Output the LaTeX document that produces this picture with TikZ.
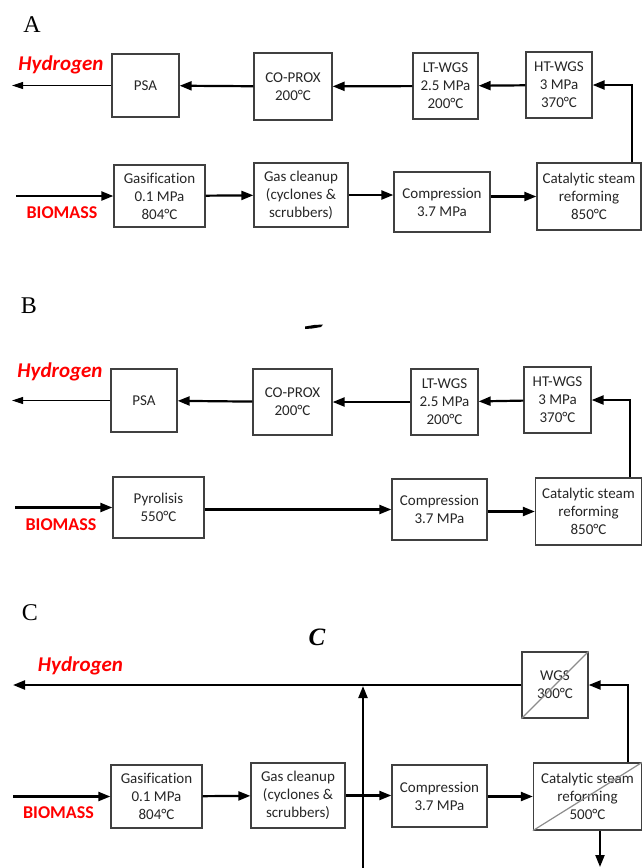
\documentclass[tikz,border=0pt]{standalone}
\usepackage{fontspec}
\setmainfont{Carlito}[Ligatures=NoCommon]
\newfontfamily\panelfont{Liberation Serif}
\usetikzlibrary{arrows.meta}

\begin{document}
\begin{tikzpicture}[
  x=1pt, y=-1pt,
  unit/.style={rectangle, draw=black!75, line width=1.3pt, align=center, inner sep=0pt, text=black!85, font=\fontsize{15}{18}\selectfont},
  panel/.style={inner sep=0pt, font=\panelfont\fontsize{24}{24}\selectfont},
  product/.style={inner sep=0pt, text=red, font=\bfseries\itshape\fontsize{21}{21}\selectfont},
  feed/.style={inner sep=0pt, text=red, font=\bfseries\fontsize{18}{18}\selectfont},
  flow/.style={->, line width=2.2pt},
  thinflow/.style={-{Triangle[length=11pt, width=7pt]}, line width=1.1pt},
  crossed/.style={draw=black!45, line width=1.2pt},
  >={Triangle[length=12pt, width=9pt]}
]
\useasboundingbox (0,0) rectangle (642,868);

\node[panel] (labA) at (32,25) {A};
\node[product] (h2labA) at (61,65) {Hydrogen};
\node[feed] (bioA) at (62,213) {BIOMASS};
\node[unit, minimum width=67, minimum height=63] (psaA) at (145.5,85.5) {PSA};
\node[unit, minimum width=78, minimum height=67] (coproxA) at (293,86.5) {CO-PROX\\200°C};
\node[unit, minimum width=65, minimum height=66] (ltA) at (445.5,86) {LT-WGS\\2.5 MPa\\200°C};
\node[unit, minimum width=66, minimum height=66] (htA) at (559,85) {HT-WGS\\3 MPa\\370°C};
\node[unit, minimum width=91, minimum height=62] (gasA) at (159.5,196) {Gasification\\0.1 MPa\\804°C};
\node[unit, minimum width=94, minimum height=64] (cleanA) at (301,195) {Gas cleanup\\(cyclones \&\\scrubbers)};
\node[unit, minimum width=96, minimum height=60] (compA) at (442,202) {Compression\\3.7 MPa};
\node[unit, minimum width=104, minimum height=67] (csrA) at (589,196.5) {Catalytic steam\\reforming\\850°C};
\coordinate (h2A) at (12,85.5);
\coordinate (inA) at (16,196);
\coordinate (riseA) at (632,85);

\draw[thinflow] (psaA) -- (h2A);
\foreach \a/\b in {coproxA/psaA, ltA/coproxA, htA/ltA} { \draw[flow] (\a) -- (\b); }
\draw[flow] (riseA |- csrA.north) |- (htA);
\draw[flow] (inA) -- (gasA);
\draw[flow] (gasA) -- (cleanA);
\draw[flow] (cleanA.east) -- (cleanA.east -| compA.west);
\draw[flow] (compA.east |- csrA) -- (csrA);

\node[panel] (labB) at (29,306) {B};
\fill (305,326.5) -- (314,325) -- (323,324.5) -- (321,327) -- (312,328.5) -- (305,329) -- cycle;
\node[product] (h2labB) at (60,372) {Hydrogen};
\node[feed] (bioB) at (61,525) {BIOMASS};
\node[unit, minimum width=66, minimum height=63] (psaB) at (144,400.5) {PSA};
\node[unit, minimum width=79, minimum height=66] (coproxB) at (292.5,402) {CO-PROX\\200°C};
\node[unit, minimum width=67, minimum height=66] (ltB) at (444.5,402) {LT-WGS\\2.5 MPa\\200°C};
\node[unit, minimum width=67, minimum height=66] (htB) at (557.5,400) {HT-WGS\\3 MPa\\370°C};
\node[unit, minimum width=91, minimum height=61] (pyrB) at (158.5,507.5) {Pyrolisis\\550°C};
\node[unit, minimum width=95, minimum height=61] (compB) at (439.5,509.5) {Compression\\3.7 MPa};
\node[unit, minimum width=106, minimum height=67] (csrB) at (588.5,511.5) {Catalytic steam\\reforming\\850°C};
\coordinate (h2B) at (12,400.5);
\coordinate (inB) at (15,507.5);
\coordinate (riseB) at (630,400);

\draw[thinflow] (psaB) -- (h2B);
\foreach \a/\b in {coproxB/psaB, ltB/coproxB, htB/ltB} { \draw[flow] (\a) -- (\b); }
\draw[flow] (riseB |- csrB.north) |- (htB);
\draw[flow] (inB) -- (pyrB);
\draw[flow] (pyrB.east |- compB) -- (compB);
\draw[flow] (compB.east |- csrB) -- (csrB);

\node[panel] (labC) at (30,613) {C};
\node[panel, font=\panelfont\bfseries\itshape\fontsize{25}{25}\selectfont] (titleC) at (317,637) {C};
\node[product] (h2labC) at (80.5,666) {Hydrogen};
\node[feed] (bioC) at (58.5,813) {BIOMASS};
\node[unit, minimum width=66, minimum height=66] (wgsC) at (555,685) {WGS\\300°C};
\node[unit, minimum width=91, minimum height=63] (gasC) at (156.5,796.5) {Gasification\\0.1 MPa\\804°C};
\node[unit, minimum width=94, minimum height=65] (cleanC) at (298,795.5) {Gas cleanup\\(cyclones \&\\scrubbers)};
\node[unit, minimum width=95, minimum height=62] (compC) at (439.5,796) {Compression\\3.7 MPa};
\node[unit, minimum width=108, minimum height=67] (csrC) at (587.5,796.5) {Catalytic steam\\reforming\\500°C};
\draw[crossed] (wgsC.south west) -- (wgsC.north east);
\draw[crossed] (csrC.south west) -- (csrC.north east);
\coordinate (h2C) at (13,685);
\coordinate (inC) at (13,796.5);
\coordinate (jC) at (363,686);
\coordinate (recC) at (363,870);
\coordinate (riseC) at (628,685);
\coordinate (outC) at (600,867);

\draw[flow] (wgsC) -- (h2C);
\draw[flow] (recC) -- (jC);
\draw[flow] (riseC |- csrC.north) |- (wgsC);
\draw[flow] (outC |- csrC.south) -- (outC);
\draw[flow] (inC) -- (gasC);
\draw[flow] (gasC) -- (cleanC);
\draw[flow] (cleanC.east) -- (cleanC.east -| compC.west);
\draw[flow] (compC.east |- csrC) -- (csrC);
\end{tikzpicture}
\end{document}
